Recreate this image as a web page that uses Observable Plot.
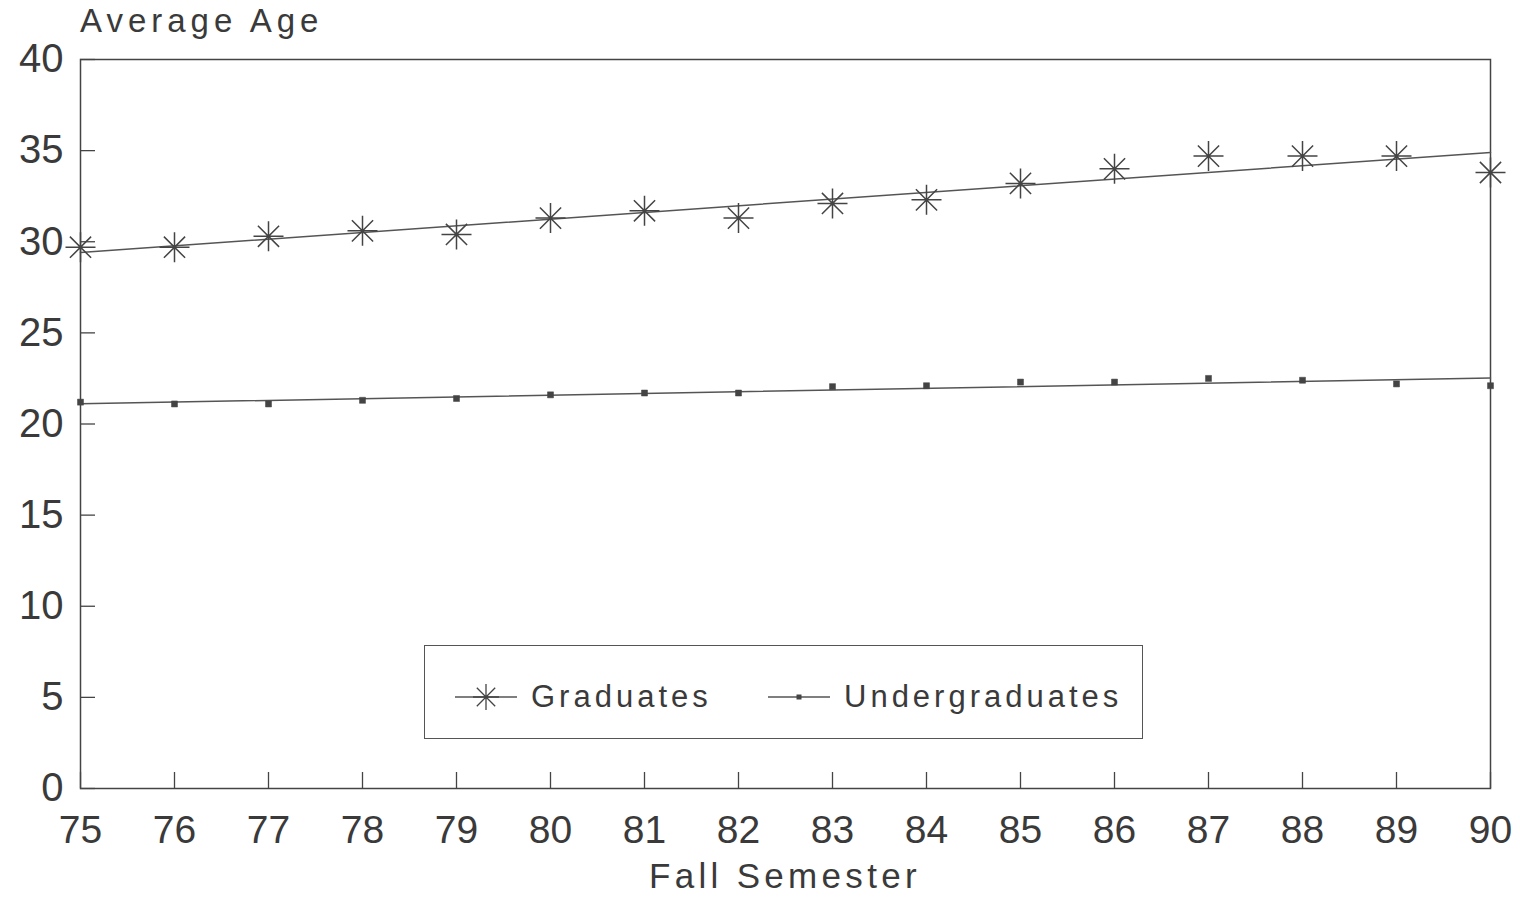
<!DOCTYPE html>
<html>
<head>
<meta charset="utf-8">
<script src="https://cdn.jsdelivr.net/npm/d3@7"></script>
<script src="https://cdn.jsdelivr.net/npm/@observablehq/plot@0.6"></script>
<style>
  html, body { margin: 0; padding: 0; background: #fff; }
  #wrap { position: relative; width: 1520px; height: 900px; font-family: "Liberation Sans", Arial, sans-serif; color: #3a3a3a; }
  #title { position: absolute; left: 80px; top: 1px; font-size: 33px; letter-spacing: 5px; line-height: 40px; }
  #xlabel { position: absolute; left: 0; width: 1570px; text-align: center; top: 855px; font-size: 35px; letter-spacing: 4.3px; line-height: 42px; }
  #legend { position: absolute; left: 424px; top: 645px; width: 719px; height: 94px; border: 1.5px solid #555; box-sizing: border-box; }
  .item { position: absolute; top: 35px; font-size: 31px; letter-spacing: 4px; display: flex; align-items: center; line-height: 32px; }
  .item svg { margin-right: 14px; }
</style>
</head>
<body>
<div id="wrap">
  <div id="chart"></div>
  <div id="title">Average Age</div>
  <div id="xlabel">Fall Semester</div>
  <div id="legend"></div>
</div>
<script>
// Data
const years = [75, 76, 77, 78, 79, 80, 81, 82, 83, 84, 85, 86, 87, 88, 89, 90];
const graduates = [29.7, 29.7, 30.3, 30.6, 30.4, 31.3, 31.7, 31.3, 32.1, 32.3, 33.2, 34.0, 34.7, 34.7, 34.7, 33.8];
const undergraduates = [21.2, 21.1, 21.1, 21.3, 21.4, 21.6, 21.7, 21.7, 22.05, 22.1, 22.3, 22.3, 22.5, 22.4, 22.2, 22.1];
const yTicks = [0, 5, 10, 15, 20, 25, 30, 35, 40];
const seriesNames = ["Graduates", "Undergraduates"];

const grad = years.map((x, i) => ({x, y: graduates[i]}));
const under = years.map((x, i) => ({x, y: undergraduates[i]}));

const ink = "#444";

// custom asterisk symbol (horizontal, vertical and two diagonals)
const asterisk = {
  draw(context, size) {
    const r = Math.sqrt(size / Math.PI);
    const a = r * Math.SQRT1_2;
    context.moveTo(-r, 0); context.lineTo(r, 0);
    context.moveTo(0, -r); context.lineTo(0, r);
    context.moveTo(-a, -a); context.lineTo(a, a);
    context.moveTo(-a, a); context.lineTo(a, -a);
  }
};

const chart = Plot.plot({
  width: 1520,
  height: 900,
  marginLeft: 80,
  marginRight: 30,
  marginTop: 59,
  marginBottom: 112,
  style: {fontFamily: "'Liberation Sans', Arial, sans-serif", color: ink, background: "#fff"},
  x: {domain: [75, 90]},
  y: {domain: [0, 40]},
  marks: [
    Plot.frame({stroke: ink, strokeWidth: 1.5}),
    Plot.axisY({ticks: yTicks, tickSize: -15, tickPadding: 32, fontSize: 40, label: null, stroke: ink, strokeWidth: 1.3, fill: "#3a3a3a", style: {letterSpacing: "1px"}}),
    Plot.axisX({ticks: years, tickSize: -16, tickPadding: 43, fontSize: 39, label: null, tickFormat: d => String(d), stroke: ink, strokeWidth: 1.3, fill: "#3a3a3a", style: {letterSpacing: "1.5px"}}),
    Plot.linearRegressionY(grad, {x: "x", y: "y", ci: 0, stroke: "#555", strokeWidth: 1.5}),
    Plot.linearRegressionY(under, {x: "x", y: "y", ci: 0, stroke: "#555", strokeWidth: 1.5}),
    Plot.dot(grad, {x: "x", y: "y", symbol: asterisk, r: 15, stroke: "#444", strokeWidth: 1.5, fill: "none"}),
    Plot.dot(under, {x: "x", y: "y", symbol: "square", r: 3.4, fill: "#444", stroke: "#444", strokeWidth: 0.5})
  ]
});
document.getElementById("chart").appendChild(chart);

// Legend
const legend = document.getElementById("legend");
function sample(kind) {
  const s = d3.create("svg").attr("width", 62).attr("height", 30);
  s.append("line").attr("x1", 0).attr("x2", 62).attr("y1", 15).attr("y2", 15).attr("stroke", "#555").attr("stroke-width", 1.5);
  if (kind === 0) {
    const r = 13, a = r * Math.SQRT1_2;
    s.append("path").attr("d", `M${31 - r},15H${31 + r}M31,${15 - r}V${15 + r}M${31 - a},${15 - a}L${31 + a},${15 + a}M${31 - a},${15 + a}L${31 + a},${15 - a}`)
      .attr("stroke", "#444").attr("stroke-width", 1.3).attr("fill", "none");
  } else {
    s.append("rect").attr("x", 28.5).attr("y", 12.5).attr("width", 5).attr("height", 5).attr("fill", "#444");
  }
  return s.node();
}
const lefts = [30, 343];
seriesNames.forEach((name, i) => {
  const it = document.createElement("div");
  it.className = "item";
  it.style.left = lefts[i] + "px";
  it.appendChild(sample(i));
  const t = document.createElement("span");
  t.textContent = name;
  it.appendChild(t);
  legend.appendChild(it);
});
</script>
</body>
</html>
